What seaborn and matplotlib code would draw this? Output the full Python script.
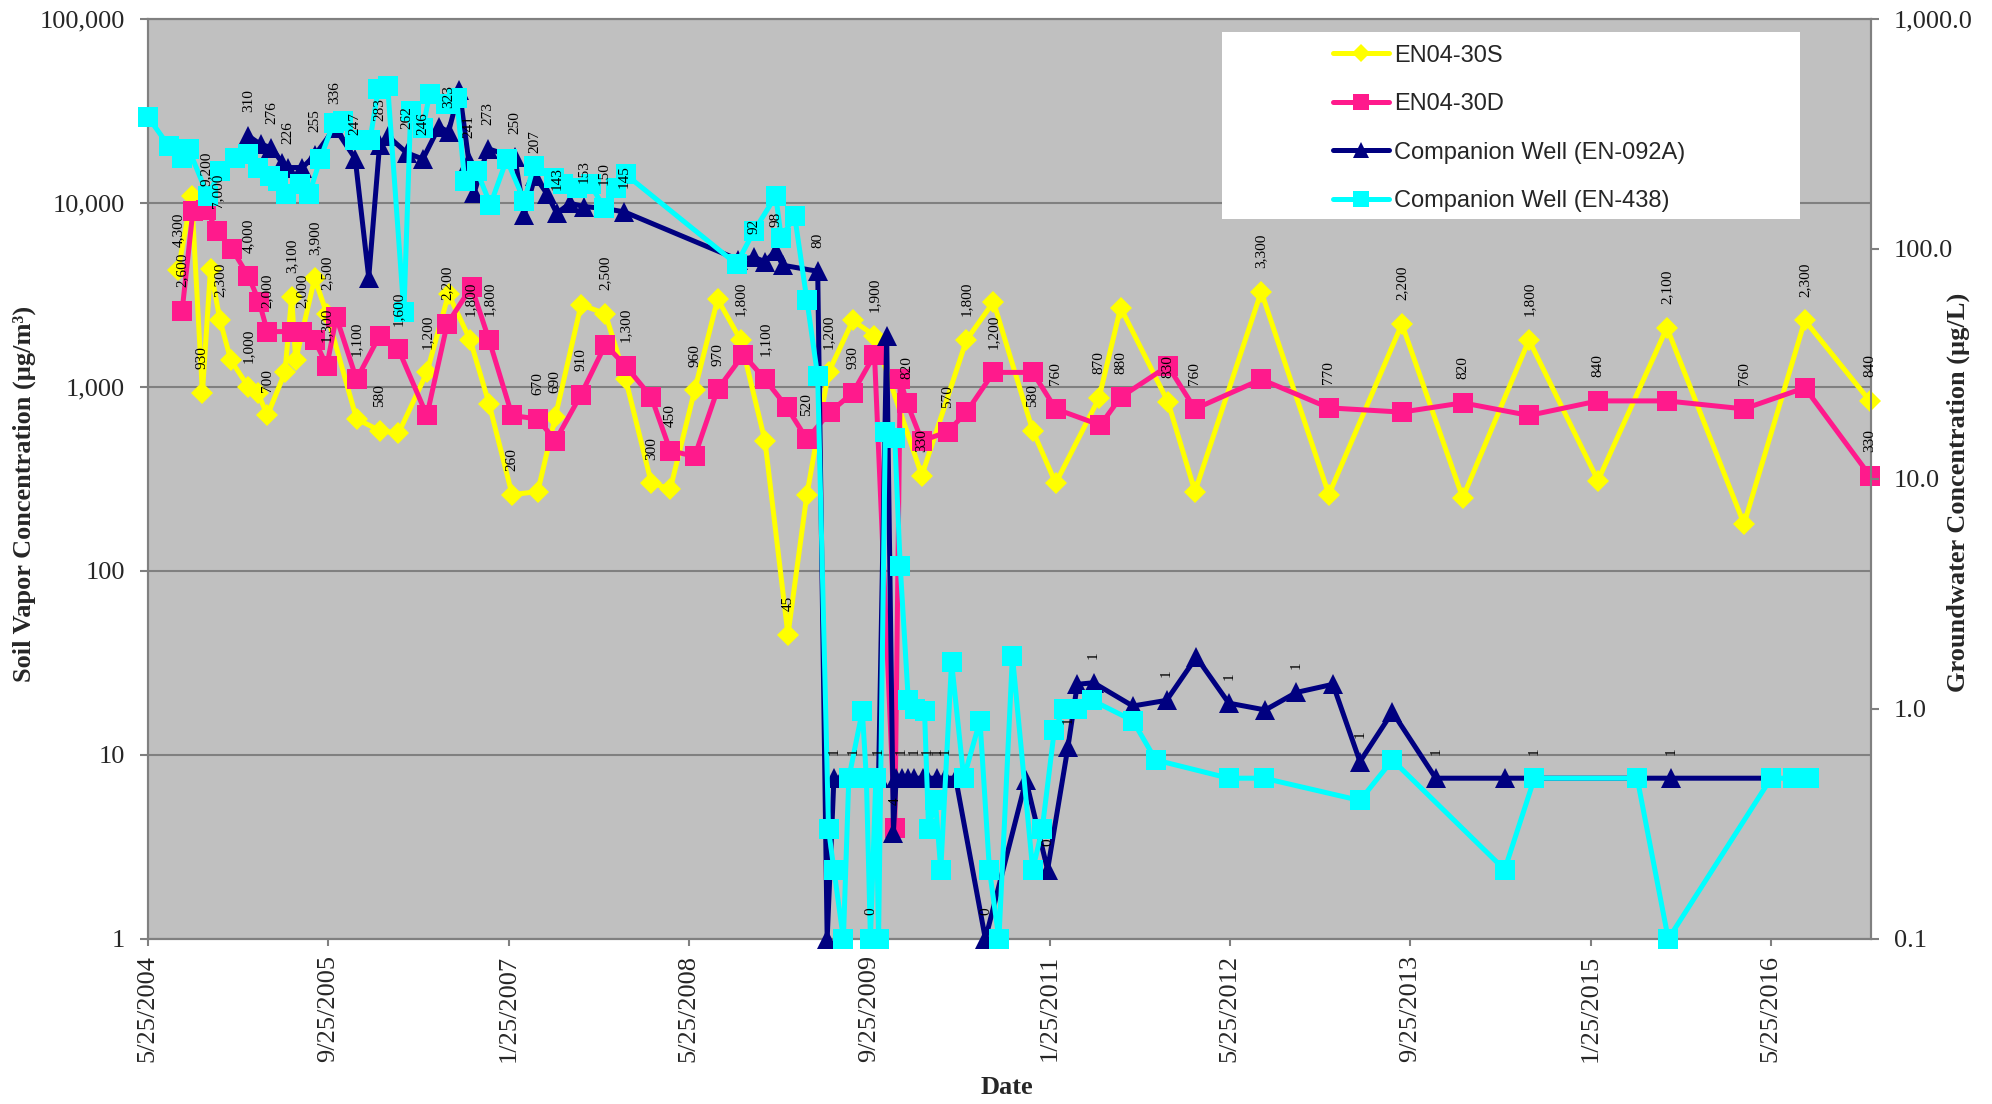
import numpy as np
import pandas as pd
import matplotlib
matplotlib.use("Agg")
import matplotlib.pyplot as plt
import seaborn as sns
from matplotlib.patches import Rectangle
from matplotlib.lines import Line2D
from matplotlib.ticker import NullLocator, NullFormatter

# --- values (dates as decimal years) ---
s30_dates = [2004.62, 2004.72, 2004.80, 2004.86, 2004.93, 2005.01, 2005.14, 2005.21, 2005.28, 2005.41,
             2005.46, 2005.49, 2005.63, 2005.72, 2005.94, 2006.11, 2006.25, 2006.46, 2006.62, 2006.78,
             2006.92, 2007.09, 2007.28, 2007.41, 2007.60, 2007.78, 2007.93, 2008.12, 2008.26, 2008.44,
             2008.61, 2008.78, 2008.96, 2009.13, 2009.27, 2009.43, 2009.61, 2009.77, 2010.12, 2010.45,
             2010.65, 2010.94, 2011.11, 2011.43, 2011.59, 2011.94, 2012.14, 2012.63, 2013.13, 2013.67,
             2014.12, 2014.61, 2015.12, 2015.63, 2016.20, 2016.65, 2017.13]
s30_vals = [4300, 10900, 930, 4400, 2300, 1400, 1000, 930, 700, 1200,
            3100, 1400, 3900, 2500, 670, 580, 560, 1200, 3200, 1800,
            810, 260, 270, 690, 2800, 2500, 1100, 300, 280, 960,
            3000, 1800, 510, 45, 260, 1200, 2300, 1900, 330, 1800,
            2900, 580, 300, 870, 2700, 830, 270, 3300, 260, 2200,
            250, 1800, 310, 2100, 180, 2300, 840]
s30_labels = ["4,300", "", "930", "", "2,300", "", "1,000", "", "700", "",
              "3,100", "", "3,900", "2,500", "", "580", "", "1,200", "", "1,800",
              "", "260", "", "690", "", "2,500", "", "300", "", "960",
              "", "1,800", "", "45", "", "1,200", "", "1,900", "330", "1,800",
              "", "580", "", "870", "", "830", "", "3,300", "", "2,200",
              "", "1,800", "", "2,100", "", "2,300", "840"]

d30_dates = [2004.65, 2004.73, 2004.83, 2004.91, 2005.02, 2005.14, 2005.22, 2005.28, 2005.46, 2005.54,
             2005.63, 2005.72, 2005.79, 2005.94, 2006.11, 2006.25, 2006.46, 2006.61, 2006.79, 2006.92,
             2007.09, 2007.28, 2007.41, 2007.60, 2007.78, 2007.93, 2008.12, 2008.26, 2008.44, 2008.61,
             2008.80, 2008.96, 2009.12, 2009.27, 2009.44, 2009.61, 2009.77, 2009.92, 2009.96, 2010.01,
             2010.12, 2010.31, 2010.45, 2010.65, 2010.94, 2011.11, 2011.44, 2011.59, 2011.94, 2012.14,
             2012.63, 2013.13, 2013.67, 2014.12, 2014.61, 2015.12, 2015.63, 2016.20, 2016.65, 2017.13]
d30_vals = [2600, 9100, 9200, 7000, 5600, 4000, 2900, 2000, 2000, 2000,
            1800, 1300, 2400, 1100, 1900, 1600, 700, 2200, 3500, 1800,
            700, 670, 510, 910, 1700, 1300, 880, 450, 420, 970,
            1500, 1100, 780, 520, 730, 930, 1500, 4, 1100, 820,
            510, 570, 730, 1200, 1200, 760, 620, 880, 1300, 760,
            1100, 770, 730, 820, 700, 840, 840, 760, 990, 330]
d30_labels = ["2,600", "", "9,200", "7,000", "", "4,000", "", "2,000", "", "2,000",
              "", "1,300", "", "1,100", "", "1,600", "", "2,200", "", "1,800",
              "", "670", "", "910", "", "1,300", "", "450", "", "970",
              "", "1,100", "", "520", "", "930", "", "4", "", "820",
              "", "570", "", "1,200", "", "760", "", "880", "", "760",
              "", "770", "", "820", "", "840", "", "760", "", "330"]

w092_dates = [2005.14, 2005.23, 2005.31, 2005.39, 2005.43, 2005.54, 2005.63, 2005.78, 2005.93, 2006.03,
              2006.11, 2006.17, 2006.31, 2006.43, 2006.55, 2006.62, 2006.70, 2006.77, 2006.81, 2006.91,
              2007.11, 2007.18, 2007.26, 2007.35, 2007.42, 2007.52, 2007.62, 2007.77, 2007.92, 2008.76,
              2008.88, 2008.96, 2009.04, 2009.09, 2009.35, 2009.42, 2009.47, 2009.53, 2009.61, 2009.70,
              2009.80, 2009.86, 2009.91, 2009.93, 2009.97, 2010.02, 2010.06, 2010.13, 2010.16, 2010.23,
              2010.29, 2010.37, 2010.59, 2010.89, 2011.05, 2011.20, 2011.27, 2011.39, 2011.68, 2011.93,
              2012.15, 2012.39, 2012.66, 2012.89, 2013.16, 2013.36, 2013.60, 2013.92, 2014.43, 2015.66,
              2016.40]
w092_vals = [310, 285, 276, 237, 226, 226, 255, 336, 247, 75,
             283, 310, 262, 246, 340, 323, 490, 241, 176, 273,
             250, 141, 207, 173, 143, 158, 153, 150, 145, 90,
             92, 88, 98, 85, 80, 0.1, 0.5, 0.5, 0.5, 0.5,
             0.5, 42, 0.29, 0.5, 0.5, 0.5, 0.5, 0.5, 0.5, 0.5,
             0.5, 0.5, 0.1, 0.49, 0.2, 0.68, 1.28, 1.3, 1.03, 1.09,
             1.68, 1.06, 0.99, 1.18, 1.28, 0.59, 0.97, 0.5, 0.5, 0.5,
             0.5]
w092_labels = ["310", "", "276", "", "226", "", "255", "336", "247", "",
               "283", "", "262", "246", "", "323", "", "241", "", "273",
               "250", "", "207", "", "143", "", "153", "150", "145", "",
               "92", "", "98", "", "80", "", "1", "", "1", "",
               "1", "", "", "", "1", "", "1", "", "1", "1",
               "1", "", "0", "", "0", "1", "", "1", "", "1",
               "", "1", "", "1", "", "1", "", "1", "", "1",
               ""]

w438_dates = [2004.40, 2004.55, 2004.65, 2004.70, 2004.84, 2004.93, 2005.04, 2005.14, 2005.21, 2005.30,
              2005.36, 2005.42, 2005.52, 2005.59, 2005.67, 2005.77, 2005.84, 2005.93, 2006.04, 2006.10,
              2006.17, 2006.29, 2006.34, 2006.43, 2006.48, 2006.60, 2006.68, 2006.74, 2006.83, 2006.93,
              2007.05, 2007.18, 2007.25, 2007.40, 2007.47, 2007.57, 2007.67, 2007.77, 2007.86, 2007.93,
              2008.75, 2008.88, 2009.04, 2009.08, 2009.18, 2009.27, 2009.35, 2009.43, 2009.47, 2009.54,
              2009.58, 2009.68, 2009.71, 2009.74, 2009.78, 2009.80, 2009.85, 2009.92, 2009.96, 2010.02,
              2010.07, 2010.14, 2010.17, 2010.22, 2010.26, 2010.34, 2010.43, 2010.55, 2010.62, 2010.69,
              2010.79, 2010.94, 2011.01, 2011.10, 2011.17, 2011.27, 2011.38, 2011.68, 2011.85, 2012.39,
              2012.65, 2013.36, 2013.60, 2014.43, 2014.65, 2015.41, 2015.64, 2016.40, 2016.56, 2016.68]
w438_vals = [373, 281, 249, 271, 170, 218, 249, 258, 226, 207,
             197, 173, 191, 173, 245, 354, 360, 299, 299, 494,
             511, 53, 397, 336, 470, 425, 454, 197, 218, 156,
             245, 162, 229, 204, 191, 185, 191, 151, 185, 211,
             86, 120, 170, 112, 139, 60, 28, 0.3, 0.2, 0.1,
             0.5, 0.98, 0.5, 0.1, 0.5, 0.1, 16, 15, 4.2, 1.09,
             1.0, 0.98, 0.3, 0.4, 0.2, 1.6, 0.5, 0.89, 0.2, 0.1,
             1.7, 0.2, 0.3, 0.81, 1.0, 1.0, 1.09, 0.89, 0.6, 0.5,
             0.5, 0.4, 0.6, 0.2, 0.5, 0.5, 0.1, 0.5, 0.5, 0.5]
w438_labels = [""] * 53 + ["0"] + [""] * 30 + ["1"] + [""] * 5

series_names = ["EN04-30S", "EN04-30D", "Companion Well (EN-092A)", "Companion Well (EN-438)"]
x_tick_dates = ["5/25/2004", "9/25/2005", "1/25/2007", "5/25/2008", "9/25/2009",
                "1/25/2011", "5/25/2012", "9/25/2013", "1/25/2015", "5/25/2016"]
x_end_date = "2/21/2017"
left_ticks = [1, 10, 100, 1000, 10000, 100000]
left_tick_labels = ["1", "10", "100", "1,000", "10,000", "100,000"]
right_ticks = [0.1, 1, 10, 100, 1000]
right_tick_labels = ["0.1", "1.0", "10.0", "100.0", "1,000.0"]

YELLOW, PINK, NAVY, CYAN = "#FFFF00", "#FF1A8C", "#000080", "#00FFFF"
GRAY = "#808080"
SERIF = ["Liberation Serif", "DejaVu Serif"]


def decimal_year(s):
    d = pd.to_datetime(s, format="%m/%d/%Y")
    n = 366 if d.is_leap_year else 365
    return d.year + (d.dayofyear - 1) / n


def draw(ax, dates, vals, color, marker, ms, z):
    df = pd.DataFrame({"date": dates, "value": vals})
    sns.lineplot(data=df, x="date", y="value", ax=ax, color=color, marker=marker,
                 markersize=ms, markeredgecolor=color, markeredgewidth=0, linewidth=3.6,
                 estimator=None, sort=False, legend=False, zorder=z, clip_on=False)


def put_labels(target, trans, dates, vals, labels):
    for d, v, t in zip(dates, vals, labels):
        if t:
            target.annotate(t, xy=(d, v), xycoords=trans, xytext=(0, 17), textcoords="offset points",
                            rotation=90, ha="center", va="bottom", fontsize=11,
                            family=SERIF, color="black", zorder=15)


sns.set_theme(style="white")
plt.rcParams["font.family"] = SERIF

fig = plt.figure(figsize=(19.92, 11.04), dpi=100)
ax = fig.add_axes([0.0742, 0.1495, 0.8651, 0.8333])
ax2 = ax.twinx()

ax.set_yscale("log")
ax2.set_yscale("log")
ax.set_facecolor("#C0C0C0")

draw(ax, s30_dates, s30_vals, YELLOW, "D", 11, 3)
draw(ax, d30_dates, d30_vals, PINK, "s", 15, 4)
draw(ax2, w092_dates, w092_vals, NAVY, "^", 14, 3)
draw(ax2, w438_dates, w438_vals, CYAN, "s", 14.5, 4)

tick_pos = [decimal_year(s) for s in x_tick_dates]
ax.set_xlim(tick_pos[0], decimal_year(x_end_date))
ax.set_ylim(left_ticks[0], left_ticks[-1])
ax2.set_ylim(right_ticks[0], right_ticks[-1])

put_labels(ax2, ax.transData, s30_dates, s30_vals, s30_labels)
put_labels(ax2, ax.transData, d30_dates, d30_vals, d30_labels)
put_labels(ax2, ax2.transData, w092_dates, w092_vals, w092_labels)
put_labels(ax2, ax2.transData, w438_dates, w438_vals, w438_labels)

# axes, ticks, grid
ax.set_xticks(tick_pos)
ax.set_xticklabels(x_tick_dates, rotation=90, fontsize=19, family=SERIF)
ax.set_yticks(left_ticks)
ax.set_yticklabels(left_tick_labels, fontsize=19, family=SERIF)
ax2.set_yticks(right_ticks)
ax2.set_yticklabels(right_tick_labels, fontsize=19, family=SERIF)
for a in (ax, ax2):
    a.yaxis.set_minor_locator(NullLocator())
    a.yaxis.set_minor_formatter(NullFormatter())
    a.set_xlabel("")
    a.set_ylabel("")
    for sp in a.spines.values():
        sp.set_color(GRAY)
        sp.set_linewidth(1.5)
ax.tick_params(axis="x", direction="out", length=5, width=1.5, color=GRAY, pad=6.5, bottom=True)
ax.tick_params(axis="y", direction="out", length=5.5, width=1.5, color=GRAY, pad=11, left=True)
ax2.tick_params(axis="y", direction="out", length=5.5, width=1.5, color=GRAY, pad=11, right=True)
ax.yaxis.grid(True, color=GRAY, linewidth=1.5)
ax.xaxis.grid(False)
ax.set_axisbelow(True)

fig.text(0.012, 0.553, "Soil Vapor Concentration (µg/m³)", rotation=90, ha="center", va="center",
         fontsize=19, fontweight="bold", family=SERIF)
fig.text(0.983, 0.554, "Groundwater Concentration (µg/L)", rotation=90, ha="center", va="center",
         fontsize=19, fontweight="bold", family=SERIF)
fig.text(0.5057, 0.015, "Date", ha="center", va="center", fontsize=19, fontweight="bold", family=SERIF)

# legend in a white box
ax2.add_patch(Rectangle((0.6231, 0.7826), 0.3355, 0.2029, transform=ax2.transAxes,
                        facecolor="white", edgecolor="none", zorder=20, clip_on=False))
handles = [
    Line2D([], [], color=YELLOW, marker="D", markersize=9, mew=0, lw=3.6),
    Line2D([], [], color=PINK, marker="s", markersize=12, mew=0, lw=3.6),
    Line2D([], [], color=NAVY, marker="^", markersize=12, mew=0, lw=3.6),
    Line2D([], [], color=CYAN, marker="s", markersize=12, mew=0, lw=3.6),
]
leg = ax2.legend(handles, series_names, loc="upper left", bbox_to_anchor=(0.6875, 0.972),
                 frameon=False, borderpad=0, borderaxespad=0, handlelength=2.4,
                 handletextpad=0.2, labelspacing=1.12, numpoints=1,
                 prop={"family": ["Liberation Sans", "DejaVu Sans"], "size": 17})
leg.set_zorder(21)

fig.savefig("out.png", dpi=100, facecolor="white")
